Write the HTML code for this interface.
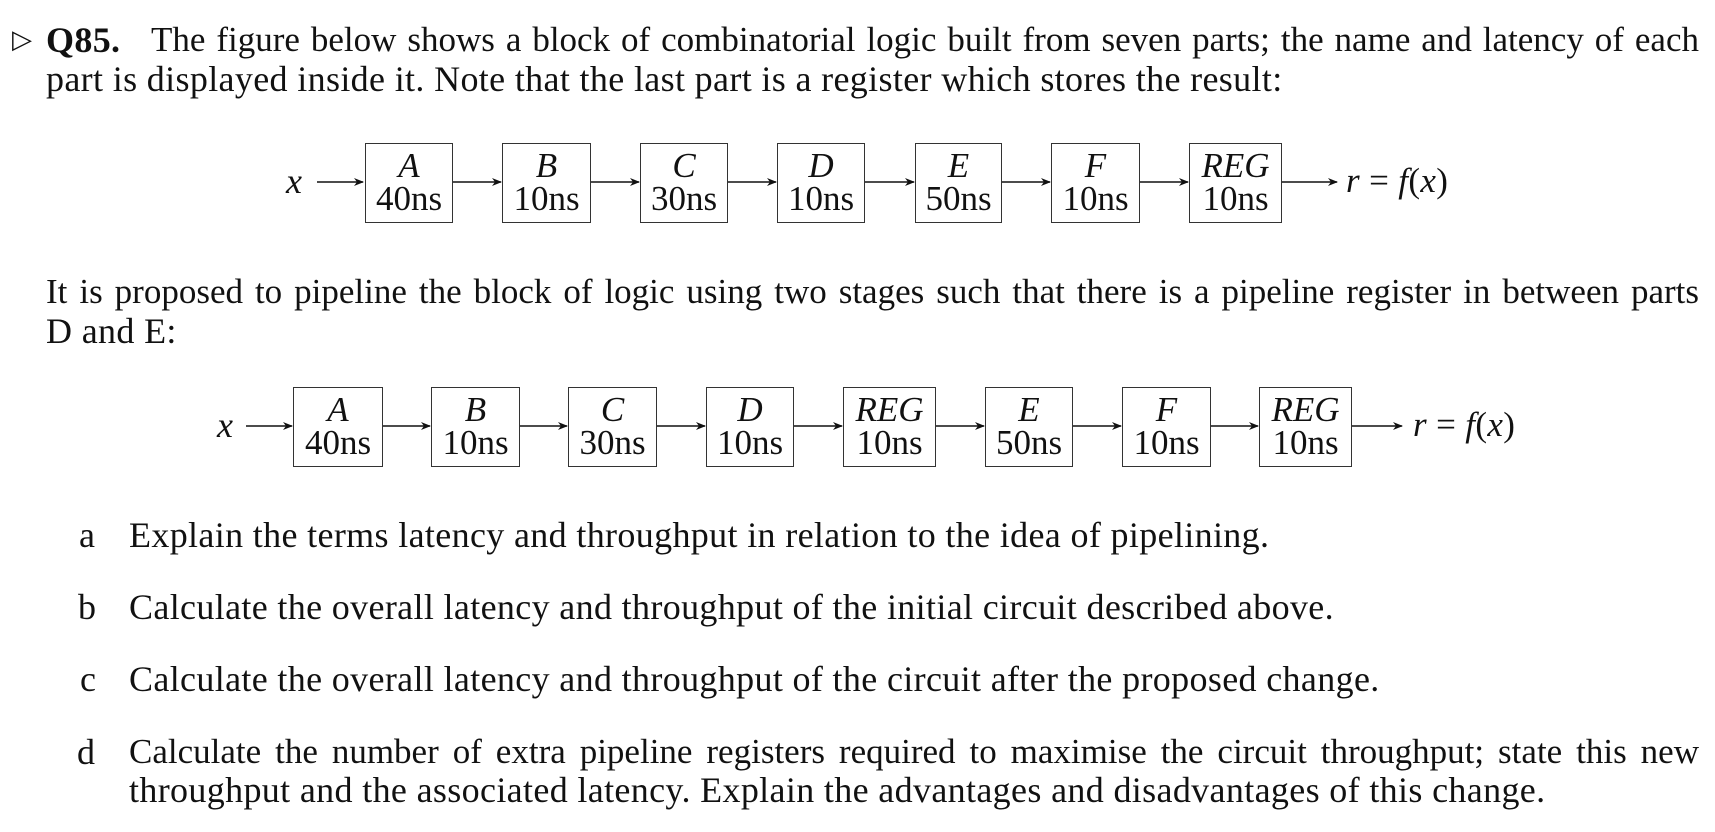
<!DOCTYPE html>
<html><head><meta charset="utf-8"><style>
body{margin:0;width:1715px;height:832px;background:#fff;position:relative;overflow:hidden;font-family:"Liberation Serif",serif;color:#111}
.t{position:absolute;font-size:36px;line-height:36px;white-space:nowrap;letter-spacing:0.35px}
.j{text-align:justify;text-align-last:justify;white-space:normal;font-size:35px;letter-spacing:0}
.box{position:absolute;border:1.5px solid #333;box-sizing:border-box;text-align:center;font-size:35px;line-height:33px;padding-top:5px}
.box i{display:block}
svg{position:absolute;left:0;top:0}
</style></head><body>
<div class="t" style="left:12px;top:22px;font-size:26px">▷</div>
<div class="t" style="left:46px;top:22px;font-weight:bold">Q85.</div>
<div class="t j" style="left:151px;top:22px;width:1548px">The figure below shows a block of combinatorial logic built from seven parts; the name and latency of each</div>
<div class="t" style="left:46px;top:61px">part is displayed inside it. Note that the last part is a register which stores the result:</div>

<div class="t j" style="left:46px;top:274px;width:1653px">It is proposed to pipeline the block of logic using two stages such that there is a pipeline register in between parts</div>
<div class="t" style="left:46px;top:313px">D and E:</div>

<div class="t" style="left:79px;top:517px">a</div>
<div class="t" style="left:129px;top:517px">Explain the terms latency and throughput in relation to the idea of pipelining.</div>
<div class="t" style="left:78px;top:589px">b</div>
<div class="t" style="left:129px;top:589px">Calculate the overall latency and throughput of the initial circuit described above.</div>
<div class="t" style="left:80px;top:661px">c</div>
<div class="t" style="left:129px;top:661px">Calculate the overall latency and throughput of the circuit after the proposed change.</div>
<div class="t" style="left:77px;top:734px">d</div>
<div class="t j" style="left:129px;top:734px;width:1570px">Calculate the number of extra pipeline registers required to maximise the circuit throughput; state this new</div>
<div class="t" style="left:129px;top:772px">throughput and the associated latency. Explain the advantages and disadvantages of this change.</div>

<!-- diagram 1 -->
<div class="t" style="left:286px;top:163px;font-style:italic">x</div>
<div class="box" style="left:365px;top:143px;width:88px;height:80px"><i>A</i>40ns</div>
<div class="box" style="left:502px;top:143px;width:89px;height:80px"><i>B</i>10ns</div>
<div class="box" style="left:640px;top:143px;width:88px;height:80px"><i>C</i>30ns</div>
<div class="box" style="left:777px;top:143px;width:88px;height:80px"><i>D</i>10ns</div>
<div class="box" style="left:915px;top:143px;width:87px;height:80px"><i>E</i>50ns</div>
<div class="box" style="left:1051px;top:143px;width:89px;height:80px"><i>F</i>10ns</div>
<div class="box" style="left:1189px;top:143px;width:93px;height:80px"><i>REG</i>10ns</div>
<div class="t" style="left:1346px;top:163px;font-size:35px"><i>r</i> = <i>f</i>(<i>x</i>)</div>

<!-- diagram 2 -->
<div class="t" style="left:217px;top:407px;font-style:italic">x</div>
<div class="box" style="left:293px;top:387px;width:90px;height:80px"><i>A</i>40ns</div>
<div class="box" style="left:431px;top:387px;width:89px;height:80px"><i>B</i>10ns</div>
<div class="box" style="left:568px;top:387px;width:89px;height:80px"><i>C</i>30ns</div>
<div class="box" style="left:706px;top:387px;width:88px;height:80px"><i>D</i>10ns</div>
<div class="box" style="left:843px;top:387px;width:93px;height:80px"><i>REG</i>10ns</div>
<div class="box" style="left:985px;top:387px;width:88px;height:80px"><i>E</i>50ns</div>
<div class="box" style="left:1122px;top:387px;width:89px;height:80px"><i>F</i>10ns</div>
<div class="box" style="left:1259px;top:387px;width:93px;height:80px"><i>REG</i>10ns</div>
<div class="t" style="left:1413px;top:407px;font-size:35px"><i>r</i> = <i>f</i>(<i>x</i>)</div>

<svg width="1715" height="832">
<defs><marker id="a" markerWidth="10" markerHeight="8" refX="9" refY="4" orient="auto" markerUnits="userSpaceOnUse"><path d="M0,0 L10,4 L0,8 L3,4 Z" fill="#111"/></marker></defs>
<g stroke="#111" stroke-width="1.5" marker-end="url(#a)">
<line x1="317" y1="182" x2="363" y2="182"/>
<line x1="453" y1="182" x2="501" y2="182"/>
<line x1="591" y1="182" x2="639" y2="182"/>
<line x1="728" y1="182" x2="776" y2="182"/>
<line x1="865" y1="182" x2="914" y2="182"/>
<line x1="1002" y1="182" x2="1050" y2="182"/>
<line x1="1140" y1="182" x2="1188" y2="182"/>
<line x1="1282" y1="182" x2="1337" y2="182"/>
<line x1="246" y1="426" x2="292" y2="426"/>
<line x1="383" y1="426" x2="430" y2="426"/>
<line x1="520" y1="426" x2="567" y2="426"/>
<line x1="657" y1="426" x2="705" y2="426"/>
<line x1="794" y1="426" x2="842" y2="426"/>
<line x1="936" y1="426" x2="984" y2="426"/>
<line x1="1073" y1="426" x2="1121" y2="426"/>
<line x1="1211" y1="426" x2="1258" y2="426"/>
<line x1="1352" y1="426" x2="1402" y2="426"/>
</g>
</svg>
</body></html>
